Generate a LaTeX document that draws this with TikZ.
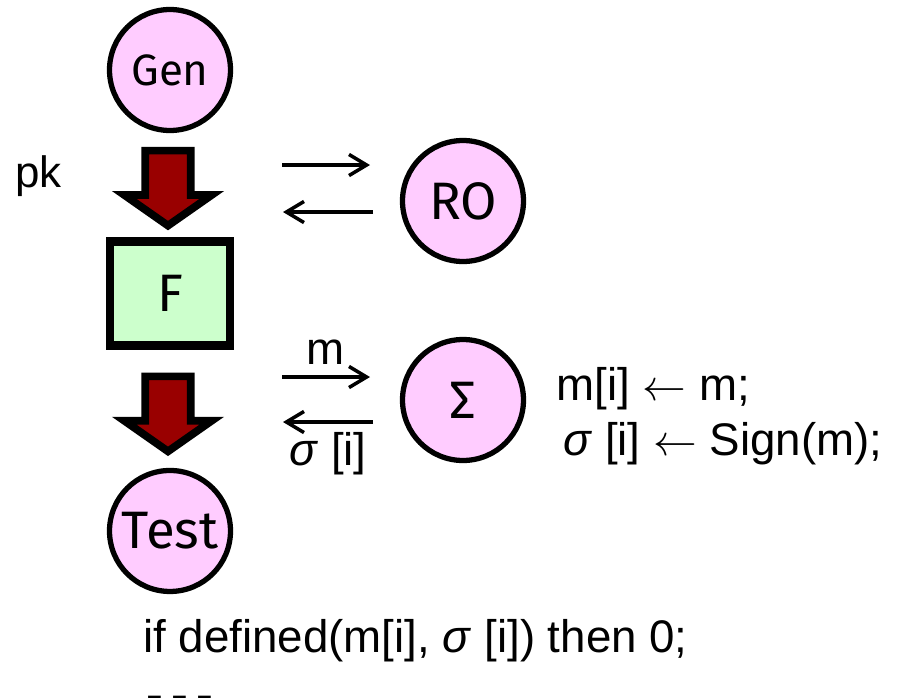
\documentclass[tikz,border=0pt]{standalone}
\usepackage{fontspec}
\setmainfont{Liberation Sans}
\newfontfamily\handfont{Fira Sans}
\usepackage{tikz}
\usetikzlibrary{arrows.meta,positioning,shapes.arrows,calc}

\definecolor{oraclepink}{HTML}{FFCCFF}
\definecolor{forgergreen}{HTML}{CCFFCC}
\definecolor{keyred}{HTML}{990000}

\begin{document}
\begin{tikzpicture}[
  x=0.02cm, y=-0.02cm,
  party/.style={circle, draw, line width=3pt, fill=oraclepink, minimum size=2.42cm,
                inner sep=0pt, font=\handfont\fontsize{30}{36}\selectfont},
  forger/.style={rectangle, draw, line width=5pt, fill=forgergreen, minimum width=2.4cm,
                 minimum height=2.08cm, font=\handfont\fontsize{30}{36}\selectfont},
  keyarrow/.style={single arrow, draw, line width=4.4pt, fill=keyred, rotate=-90,
                   minimum height=1.5cm, inner xsep=0pt, inner ysep=0.38cm,
                   single arrow head extend=0.42cm, single arrow tip angle=110},
  query/.style={-{Straight Barb[length=10pt,width=12pt]}, line width=2pt},
  big/.style={font=\fontsize{26}{31}\selectfont, inner sep=0pt},
]
  \useasboundingbox (0,0) rectangle (900,697);

  % Parties
  \node[party, font=\handfont\fontsize{25}{30}\selectfont] (gen) at (170,70) {Gen};
  \node[forger, below=2.08cm of gen] (f) {F};
  \node[party, below=2.36cm of f] (test) {Test};
  \node[party] (ro) at (463,201) {RO};
  \node[party] (sig) at (463,400) {Σ};

  % Key and output
  \node[keyarrow] (pkarrow) at ($(gen.south)!0.5!(f.north)+(-2,-5)$) {};
  \node[keyarrow] (outarrow) at ($(f.south)!0.5!(test.north)+(-2,-3)$) {};
  \node[big, anchor=base west, font=\fontsize{25}{30}\selectfont] (pk) at (15,187) {pk};

  % Oracle queries
  \coordinate (roq1) at (282,165);
  \coordinate (roq2) at (370,165);
  \coordinate (roa1) at (373,212);
  \coordinate (roa2) at (283,212);
  \coordinate (sq1) at (282,377);
  \coordinate (sq2) at (370,377);
  \coordinate (sa1) at (373,422);
  \coordinate (sa2) at (283,422);
  \draw[query] (roq1) -- (roq2);
  \draw[query] (roa1) -- (roa2);
  \draw[query] (sq1) -- node[above, font=\fontsize{26}{31}\selectfont, inner sep=6pt] {m} (sq2);
  \draw[query] (sa1) -- node[below, font=\fontsize{26}{31}\selectfont, inner sep=5pt] {\textit{σ} [i]} (sa2);

  % Signing oracle bookkeeping
  \node[big, anchor=base west] (upd1) at (556,400) {m[i] $\leftarrow$ m;};
  \node[big, anchor=base west] (upd2) at (563,455) {\textit{σ} [i] $\leftarrow$ Sign(m);};

  % Winning condition
  \node[big, anchor=base west] (cond) at (143,652) {if defined(m[i], \textit{σ} [i]) then 0;};
  \node[big, anchor=base west, font=\bfseries\fontsize{51}{60}\selectfont] (more) at (142,709) {...};

\end{tikzpicture}
\end{document}
